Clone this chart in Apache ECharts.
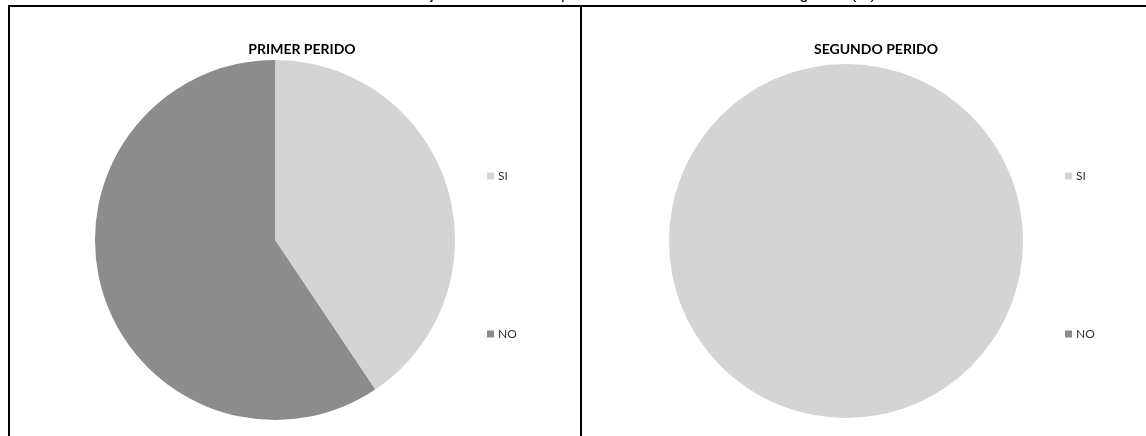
<!DOCTYPE html>
<html>
<head>
<meta charset="utf-8">
<style>
  html, body { margin: 0; padding: 0; background: #fff; }
  #chart { width: 1146px; height: 436px; }
</style>
<script src="https://cdn.jsdelivr.net/npm/echarts@6/dist/echarts.min.js"></script>
</head>
<body>
<div id="chart"></div>
<script>
// Answer categories and the share of each period (%)
const categories = ['SI', 'NO'];
const primerPeriodo = [40.6, 59.4];
const segundoPeriodo = [100, 0];
const panelTitles = ['PRIMER PERIDO', 'SEGUNDO PERIDO'];
const mainTitle = 'Gráfico N° 5. Porcentaje de estudiantes que realizan actividades de investigación (%)';

const colors = ['#d4d4d4', '#8c8c8c'];
const legendFont = 'Lato, "Open Sans", sans-serif';

function toData(values) {
  return categories.map((name, i) => ({ name, value: values[i] }));
}

function pieSeries(values, center, r) {
  return {
    type: 'pie',
    center: center,
    radius: r,
    startAngle: 90,
    clockwise: true,
    label: { show: false },
    labelLine: { show: false },
    silent: true,
    emphasis: { disabled: true },
    itemStyle: { borderWidth: 0 },
    data: toData(values)
  };
}

function legendAt(left) {
  return {
    left: left,
    top: 170,
    orient: 'vertical',
    icon: 'rect',
    itemWidth: 7,
    itemHeight: 7,
    itemGap: 146,
    padding: 0,
    selectedMode: false,
    textStyle: { fontFamily: legendFont, fontSize: 12, color: '#333', padding: [0, 0, 0, -1] },
    data: categories
  };
}

const chart = echarts.init(document.getElementById('chart'), null, { renderer: 'canvas' });

chart.setOption({
  animation: false,
  color: colors,
  title: [
    {
      text: mainTitle, left: 'center', top: -18,
      textStyle: { fontFamily: 'Liberation Sans, Arial, sans-serif', fontSize: 16, fontWeight: 'normal', color: '#000' }
    },
    {
      text: panelTitles[0], left: 297, top: 37, textAlign: 'center',
      textStyle: { fontFamily: legendFont, fontSize: 14, fontWeight: 'bold', color: '#000' }
    },
    {
      text: panelTitles[1], left: 871, top: 37, textAlign: 'center',
      textStyle: { fontFamily: legendFont, fontSize: 14, fontWeight: 'bold', color: '#000' }
    }
  ],
  legend: [legendAt(487), legendAt(1065)],
  series: [
    pieSeries(primerPeriodo, [275, 240], 180),
    pieSeries(segundoPeriodo, [846, 241], 177)
  ],
  graphic: [
    { type: 'rect', shape: { x: 8, y: 5, width: 1138, height: 2 }, style: { fill: '#000' }, silent: true },
    { type: 'rect', shape: { x: 8, y: 5, width: 2, height: 431 }, style: { fill: '#000' }, silent: true },
    { type: 'rect', shape: { x: 580, y: 5, width: 2, height: 431 }, style: { fill: '#000' }, silent: true }
  ]
});
</script>
</body>
</html>
